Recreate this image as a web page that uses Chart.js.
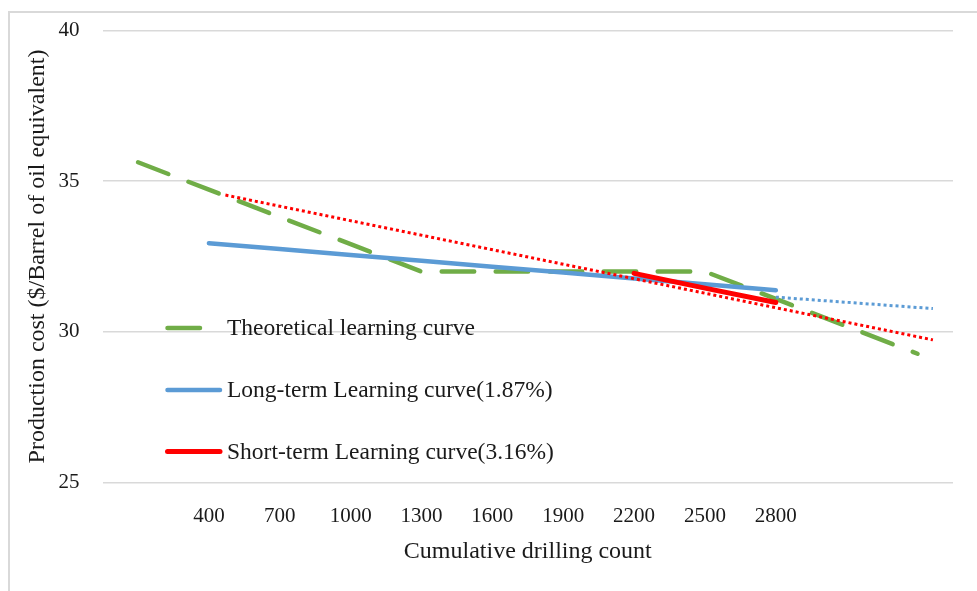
<!DOCTYPE html>
<html>
<head>
<meta charset="utf-8">
<script src="https://cdn.jsdelivr.net/npm/chart.js@4/dist/chart.umd.min.js"></script>
<style>
  html, body { margin: 0; padding: 0; background: #fff; }
  #wrap { width: 977px; height: 591px; position: relative; }
</style>
</head>
<body>
<div id="wrap"><canvas id="c" width="977" height="591"></canvas></div>
<script>
// ---- data ----
const drillCounts = [100, 400, 700, 1000, 1300, 1600, 1900, 2200, 2500, 2800, 3100, 3400];
const theoretical = [35.63, 34.72, 33.81, 32.91, 32.0, 32.0, 32.0, 32.0, 32.0, 31.09, 30.18, 29.27];

const longTermCounts = [400, 700, 1000, 1300, 1600, 1900, 2200, 2500, 2800];
const longTerm = [32.94, 32.75, 32.55, 32.36, 32.16, 31.97, 31.77, 31.58, 31.38];

const shortTermCounts = [2200, 2500, 2800];
const shortTerm = [31.94, 31.45, 30.97];

const longTrendCounts = [2800, 3465];
const longTrend = [31.15, 30.77];

const shortTrendCounts = [470, 3465];
const shortTrend = [34.54, 29.73];

const xTickValues = [400, 700, 1000, 1300, 1600, 1900, 2200, 2500, 2800];
const yTickValues = [25, 30, 35, 40];

const seriesNames = [
  'Theoretical learning curve',
  'Long-term Learning curve(1.87%)',
  'Short-term Learning curve(3.16%)'
];
const xTitle = 'Cumulative drilling count';
const yTitle = 'Production cost ($/Barrel of oil equivalent)';

const GREEN = '#70AD47', BLUE = '#5B9BD5', RED = '#FF0000';
const FONT = '"Liberation Serif", "Times New Roman", serif';
const TEXT = '#1a1a1a';

const pts = (xs, ys) => xs.map((x, i) => ({ x: x, y: ys[i] }));

const framePlugin = {
  id: 'frame',
  beforeDraw(chart) {
    const ctx = chart.ctx;
    ctx.save();
    ctx.strokeStyle = '#d9d9d9';
    ctx.lineWidth = 2;
    ctx.strokeRect(9, 12, 1000, 700);
    ctx.restore();
  }
};

const legendPlugin = {
  id: 'insideLegend',
  afterDatasetsDraw(chart) {
    const ctx = chart.ctx;
    const rows = [328, 390, 451.5];
    let r = 0;
    chart.data.datasets.forEach(ds => {
      if (!ds.inLegend) return;
      const y = rows[r++];
      ctx.save();
      ctx.strokeStyle = ds.borderColor;
      ctx.lineWidth = ds.borderWidth;
      ctx.lineCap = 'round';
      ctx.setLineDash(ds.borderDash || []);
      ctx.beginPath();
      ctx.moveTo(167.5, y);
      ctx.lineTo(220, y);
      ctx.stroke();
      ctx.setLineDash([]);
      ctx.fillStyle = TEXT;
      ctx.font = '23.5px ' + FONT;
      ctx.textBaseline = 'middle';
      ctx.textAlign = 'left';
      ctx.fillText(ds.label, 227, y + 1);
      ctx.restore();
    });
  }
};

new Chart(document.getElementById('c'), {
  type: 'line',
  data: {
    datasets: [
      {
        label: 'Short-term trend', data: pts(shortTrendCounts, shortTrend),
        borderColor: RED, borderWidth: 3, borderDash: [3, 3], borderCapStyle: 'butt',
        pointRadius: 0, order: 0, inLegend: false
      },
      {
        label: 'Long-term trend', data: pts(longTrendCounts, longTrend),
        borderColor: BLUE, borderWidth: 3, borderDash: [3, 3], borderCapStyle: 'butt',
        pointRadius: 0, order: 1, inLegend: false
      },
      {
        label: seriesNames[0], data: pts(drillCounts, theoretical),
        borderColor: GREEN, borderWidth: 4.5, borderDash: [32.5, 21.5], borderCapStyle: 'round',
        borderJoinStyle: 'round', pointRadius: 0, order: 4, inLegend: true
      },
      {
        label: seriesNames[1], data: pts(longTermCounts, longTerm),
        borderColor: BLUE, borderWidth: 4.5, borderCapStyle: 'round',
        pointRadius: 0, order: 3, inLegend: true
      },
      {
        label: seriesNames[2], data: pts(shortTermCounts, shortTerm),
        borderColor: RED, borderWidth: 5, borderCapStyle: 'round',
        pointRadius: 0, order: 2, inLegend: true
      }
    ]
  },
  options: {
    responsive: false,
    animation: false,
    layout: { padding: { left: 0, right: 24, top: 30.7, bottom: 0 } },
    plugins: { legend: { display: false }, tooltip: { enabled: false } },
    elements: { line: { tension: 0 } },
    scales: {
      x: {
        type: 'linear', min: -50, max: 3550,
        afterBuildTicks(scale) { scale.ticks = xTickValues.map(v => ({ value: v })); },
        afterFit(scale) { scale.height = 591 - 482.3; },
        grid: { display: false, drawTicks: false },
        border: { display: false },
        ticks: {
          padding: 22, color: TEXT, font: { family: FONT, size: 21 },
          maxRotation: 0, autoSkip: false,
          callback: v => String(v)
        },
        title: {
          display: true, text: xTitle, color: TEXT,
          font: { family: FONT, size: 24 }, padding: { top: 0, bottom: 24.6 }
        }
      },
      y: {
        min: 25, max: 40,
        afterBuildTicks(scale) { scale.ticks = yTickValues.map(v => ({ value: v })); },
        afterFit(scale) { scale.width = 102.6; },
        grid: {
          color: '#d9d9d9', lineWidth: 1.5,
          drawTicks: true, tickLength: 5, tickColor: 'rgba(0,0,0,0)'
        },
        border: { display: false },
        ticks: {
          padding: 18, color: TEXT, font: { family: FONT, size: 21, lineHeight: 1 },
          callback: v => String(v)
        },
        title: {
          display: true, text: yTitle, color: TEXT,
          font: { family: FONT, size: 24 }, padding: { top: 23.5, bottom: 0 }
        }
      }
    }
  },
  plugins: [framePlugin, legendPlugin]
});
</script>
</body>
</html>
